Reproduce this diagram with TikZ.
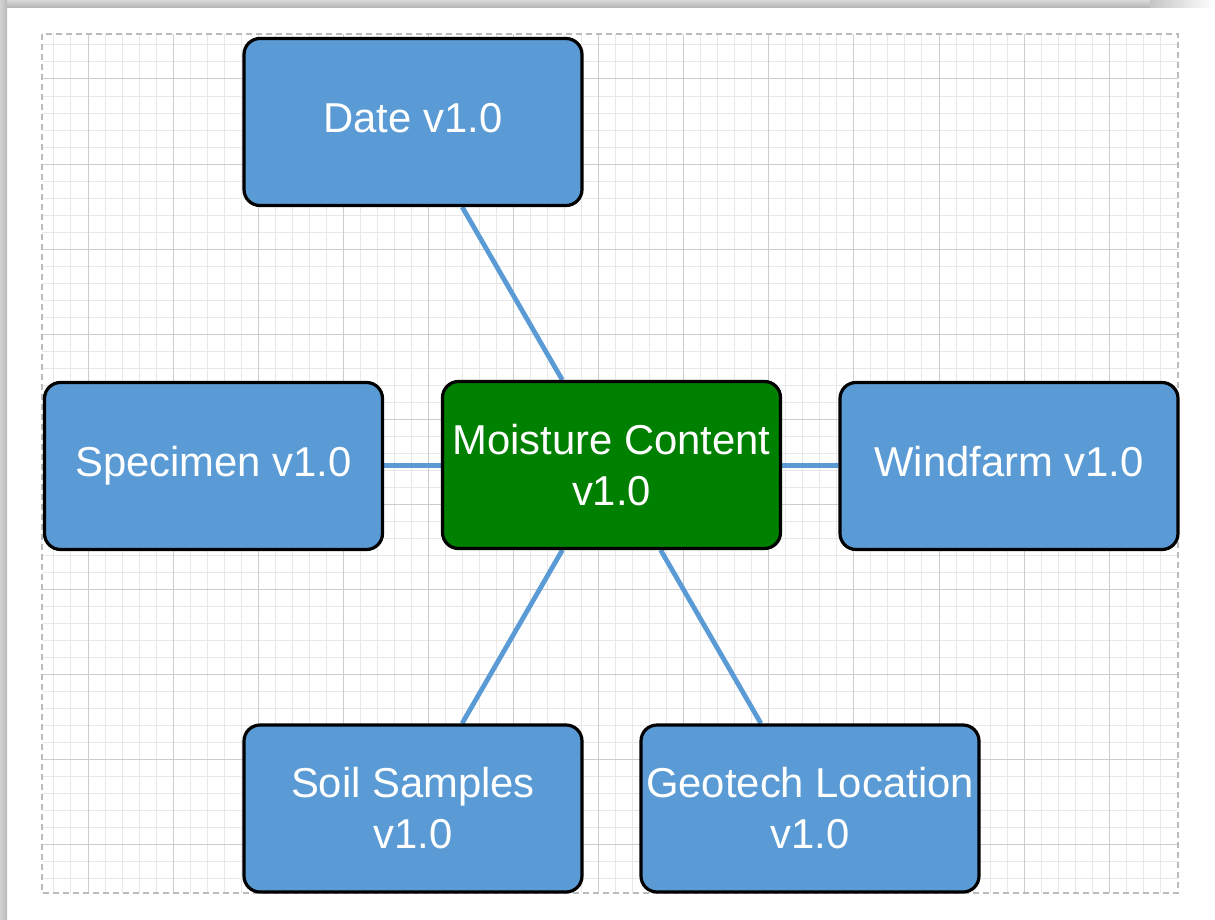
\documentclass[tikz,border=0pt]{standalone}
\usepackage{fontspec}
\newfontfamily\boxfont{Liberation Sans}
\usetikzlibrary{backgrounds}
\definecolor{boxblue}{HTML}{5B9BD5}
\definecolor{boxgreen}{HTML}{008000}
\definecolor{minorgrid}{HTML}{E8E8E8}
\definecolor{majorgrid}{HTML}{CCCCCC}
\definecolor{frameline}{HTML}{BBBBBB}
\tikzset{
  entity/.style={draw=black, line width=1.6pt, rounded corners=8pt, fill=boxblue,
    minimum width=169pt, minimum height=83.5pt, inner sep=0pt, text=white,
    align=center, font=\boxfont\fontsize{20.9}{25.5}\selectfont},
  mainentity/.style={entity, fill=boxgreen},
  oneline/.style={execute at end node=\strut},
  link/.style={draw=boxblue, line width=2.4pt},
  minorline/.style={draw=minorgrid, line width=0.5pt},
  majorline/.style={draw=majorgrid, line width=0.5pt},
}
\begin{document}
\begin{tikzpicture}[x=0.5pt, y=-0.5pt]
\useasboundingbox (0,0) rectangle (1215,920);

% nodes
\node[entity, oneline] (date) at (413,122) {Date v1.0};
\node[entity, oneline] (specimen) at (213.5,466) {Specimen v1.0};
\node[mainentity] (moisture) at (611.5,465) {Moisture Content\\v1.0};
\node[entity, oneline] (windfarm) at (1009,466) {Windfarm v1.0};
\node[entity] (soil) at (413,808.5) {Soil Samples\\v1.0};
\node[entity] (geotech) at (810,808.5) {Geotech Location\\v1.0};

\begin{scope}[on background layer]
  \fill[white] (0,0) rectangle (1215,920);
  % page shadow
  \shade[top color=gray!30, bottom color=gray!60] (0,0) rectangle (1150,8);
  \shade[left color=gray!45, right color=white] (1150,0) rectangle (1215,8);
  \shade[left color=gray!35, right color=gray!55] (0,0) rectangle (7,920);
  % grid
  \foreach \k in {-2,...,63} \draw[minorline] ({88+17.02*\k},34) -- ({88+17.02*\k},893);
  \foreach \k in {-2,...,47} \draw[minorline] (42,{79+17.02*\k}) -- (1178,{79+17.02*\k});
  \foreach \k in {0,...,12} \draw[majorline] ({88+85.1*\k},34) -- ({88+85.1*\k},893);
  \foreach \k in {0,...,9} \draw[majorline] (42,{79+85.1*\k}) -- (1178,{79+85.1*\k});
  \draw[frameline, line width=0.75pt, dash pattern=on 3pt off 2pt] (42,34) rectangle (1178,893);
  % connectors
  \draw[link] (date) -- (moisture);
  \draw[link] (specimen) -- (moisture);
  \draw[link] (moisture) -- (windfarm);
  \draw[link] (moisture) -- (soil);
  \draw[link] (moisture) -- (geotech);
\end{scope}
\end{tikzpicture}
\end{document}
